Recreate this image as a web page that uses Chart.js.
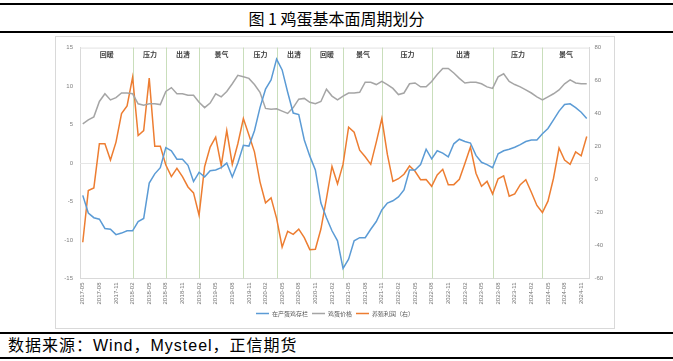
<!DOCTYPE html>
<html>
<head>
<meta charset="utf-8">
<script src="https://cdn.jsdelivr.net/npm/chart.js@4.4.1/dist/chart.umd.min.js"></script>
<style>
  body { margin: 0; background: #fff; width: 673px; height: 361px; position: relative; overflow: hidden; font-family: "Noto Sans CJK SC", sans-serif; }
  .rule { position: absolute; left: 0; width: 673px; background: #000; }
  #title { position: absolute; left: 0; width: 673px; top: 8px; text-align: center; font-size: 16px; line-height: 20px; color: #000; }
  #box { position: absolute; left: 55px; top: 36px; width: 558px; height: 291px; border: 1px solid #D9D9D9; }
  #chart { position: absolute; left: 0; top: 0; }
  #source { position: absolute; left: 8px; top: 336px; font-size: 16px; line-height: 20px; letter-spacing: 1px; color: #000; font-family: "Liberation Sans", "Noto Sans CJK SC", sans-serif; }
</style>
</head>
<body>
<div class="rule" style="top:3px;height:2px"></div>
<div id="title">图 1 鸡蛋基本面周期划分</div>
<div class="rule" style="top:31px;height:1.5px"></div>
<div id="box"><canvas id="chart" width="558" height="291"></canvas></div>
<div class="rule" style="top:332px;height:1.5px"></div>
<div id="source">数据来源：Wind，Mysteel，正信期货</div>
<div class="rule" style="top:357px;height:1.5px"></div>

<script>
// 月度标签 2017-05 ~ 2024-12
const months = [
  '2017-05','2017-06','2017-07','2017-08','2017-09','2017-10','2017-11','2017-12',
  '2018-01','2018-02','2018-03','2018-04','2018-05','2018-06','2018-07','2018-08','2018-09','2018-10','2018-11','2018-12',
  '2019-01','2019-02','2019-03','2019-04','2019-05','2019-06','2019-07','2019-08','2019-09','2019-10','2019-11','2019-12',
  '2020-01','2020-02','2020-03','2020-04','2020-05','2020-06','2020-07','2020-08','2020-09','2020-10','2020-11','2020-12',
  '2021-01','2021-02','2021-03','2021-04','2021-05','2021-06','2021-07','2021-08','2021-09','2021-10','2021-11','2021-12',
  '2022-01','2022-02','2022-03','2022-04','2022-05','2022-06','2022-07','2022-08','2022-09','2022-10','2022-11','2022-12',
  '2023-01','2023-02','2023-03','2023-04','2023-05','2023-06','2023-07','2023-08','2023-09','2023-10','2023-11','2023-12',
  '2024-01','2024-02','2024-03','2024-04','2024-05','2024-06','2024-07','2024-08','2024-09','2024-10','2024-11','2024-12'
];

// 在产蛋鸡存栏（左轴）
const layerStock = [
  -4.2, -6.5, -7.1, -7.3, -8.5, -8.6, -9.3, -9.1, -8.8, -8.8,
  -7.6, -7.2, -2.6, -1.4, -0.6, 2.0, 1.6, 0.5, 0.5, -0.3,
  -2.4, -1.2, -1.8, -1.0, -0.9, -0.6, 0.0, -1.8, 0.0, 2.3,
  2.2, 4.2, 7.2, 9.6, 10.8, 13.5, 12.1, 9.2, 6.5, 6.3,
  3.0, 0.9, -0.9, -5.2, -7.1, -8.8, -10.1, -13.7, -12.5, -10.1,
  -9.7, -9.7, -8.6, -7.6, -6.1, -5.2, -4.9, -4.4, -3.5, -0.9,
  -0.9, -0.2, 1.8, 0.55, 1.6, 1.3, 0.8, 2.5, 3.1, 2.8,
  2.6, 1.0, 0.1, -0.2, -0.6, 1.2, 1.6, 1.8, 2.05, 2.4,
  2.8, 3.0, 3.0, 3.8, 4.5, 5.6, 6.75, 7.6, 7.7, 7.2,
  6.6, 5.8
];

// 鸡蛋价格（左轴）
const eggPrice = [
  5.1, 5.6, 6.0, 8.0, 9.0, 8.2, 8.5, 9.1, 9.1, 9.0,
  7.7, 7.5, 7.7, 7.7, 7.6, 9.3, 9.8, 9.0, 9.0, 8.8,
  8.8, 7.9, 7.2, 7.8, 9.0, 8.6, 9.3, 10.3, 11.4, 11.2,
  11.0, 10.2, 9.2, 7.1, 7.0, 7.05, 6.75, 6.45, 7.2, 8.3,
  8.4, 7.9, 7.7, 8.0, 9.6, 8.7, 8.2, 8.7, 9.1, 9.1,
  9.2, 10.5, 10.5, 10.2, 10.6, 10.2, 9.7, 8.9, 9.1, 10.3,
  10.4, 9.9, 9.9, 10.6, 11.5, 12.3, 12.3, 11.7, 11.0, 10.4,
  10.5, 10.5, 10.3, 9.9, 9.7, 11.2, 11.6, 10.6, 10.2, 9.9,
  9.5, 9.1, 8.6, 8.2, 8.6, 9.0, 9.5, 10.3, 10.8, 10.4,
  10.3, 10.3
];

// 养殖利润（右轴）
const profit = [
  -38, -6.7, -5.1, 21.7, 21.7, 11.8, 22.7, 40, 44.6, 62,
  26.7, 29.7, 61.5, 20.2, 20.2, 8.8, 1.8, 6.8, 1.8, -4.5,
  -8.1, -21.6, 7.8, 19.7, 25.7, 8.4, 29.7, 9.2, 21.7, 37,
  27, 16.8, -1.4, -14.1, -11.1, -23.5, -41, -31.4, -33.2, -30.1,
  -35.2, -42.5, -42.3, -30, -11.5, 8, -2.6, 9.3, 31.7, 28.7,
  17.8, 13.8, 9.2, 22.7, 37, 15.2, -1.1, 0.5, 3.2, 8.2,
  5, -0.1, 0, -4.1, 2.8, 6.2, -3.1, -3.1, 0.2, 9.8,
  19.7, 3.8, -4.1, -1.1, -8.7, 0.5, 2.3, -10.1, -8.7, -3.1,
  -0.1, -7.7, -15.7, -20, -13.1, 0.8, 19.1, 11.8, 9.2, 16.8,
  14.4, 26.1
];

// 周期划分：分界月份的下标与阶段名称
const phaseBreaks = [9, 15, 21, 29, 35, 41, 47, 54, 63, 74, 83];
const phaseNames = ['回暖', '压力', '出清', '景气', '压力', '出清', '回暖', '景气', '压力', '出清', '压力', '景气'];

const tickColor = '#7F7F7F';
const axisFont = { family: 'Liberation Sans', size: 6 };

// 画阶段分界线、阶段名称、零线和上边框
const phasePlugin = {
  id: 'phases',
  beforeDatasetsDraw(chart) {
    const { ctx, chartArea, scales } = chart;
    ctx.save();
    // 上边框
    ctx.strokeStyle = '#E2E2E2';
    ctx.lineWidth = 1;
    ctx.beginPath();
    ctx.moveTo(chartArea.left, chartArea.top + 0.5);
    ctx.lineTo(chartArea.right, chartArea.top + 0.5);
    ctx.stroke();
    // 左轴零线
    const y0 = Math.round(scales.y.getPixelForValue(0)) + 0.5;
    ctx.strokeStyle = '#E6E6E6';
    ctx.beginPath();
    ctx.moveTo(chartArea.left, y0);
    ctx.lineTo(chartArea.right, y0);
    ctx.stroke();
    // 分界线
    ctx.strokeStyle = '#C9DEBB';
    const xs = phaseBreaks.map(i => Math.round(scales.x.getPixelForValue(i)) + 0.5);
    xs.forEach(x => {
      ctx.beginPath();
      ctx.moveTo(x, chartArea.top);
      ctx.lineTo(x, chartArea.bottom);
      ctx.stroke();
    });
    // 阶段名称
    const edges = [chartArea.left, ...xs, chartArea.right];
    ctx.fillStyle = '#404040';
    ctx.font = 'bold 7px "Noto Sans CJK SC"';
    ctx.textAlign = 'center';
    ctx.textBaseline = 'middle';
    phaseNames.forEach((name, i) => {
      ctx.fillText(name, (edges[i] + edges[i + 1]) / 2, chartArea.top + 7);
    });
    ctx.restore();
  }
};

new Chart(document.getElementById('chart'), {
  type: 'line',
  data: {
    labels: months,
    datasets: [
      {
        label: '在产蛋鸡存栏',
        data: layerStock,
        borderColor: '#5B9BD5',
        backgroundColor: '#5B9BD5',
        borderWidth: 1.5,
        pointRadius: 0,
        yAxisID: 'y'
      },
      {
        label: '鸡蛋价格',
        data: eggPrice,
        borderColor: '#A5A5A5',
        backgroundColor: '#A5A5A5',
        borderWidth: 1.5,
        pointRadius: 0,
        yAxisID: 'y'
      },
      {
        label: '养殖利润（右）',
        data: profit,
        borderColor: '#ED7D31',
        backgroundColor: '#ED7D31',
        borderWidth: 1.5,
        pointRadius: 0,
        yAxisID: 'y1'
      }
    ]
  },
  options: {
    responsive: false,
    animation: false,
    devicePixelRatio: 1,
    layout: { padding: { top: 7, left: 0, right: 0, bottom: 1.5 } },
    plugins: {
      legend: {
        position: 'bottom',
        labels: {
          color: '#595959',
          font: { family: 'Noto Sans CJK SC', size: 6 },
          usePointStyle: true,
          pointStyle: 'line',
          pointStyleWidth: 13,
          boxHeight: 6,
          padding: 4
        }
      },
      tooltip: { enabled: false }
    },
    scales: {
      x: {
        offset: true,
        grid: { display: false, drawTicks: false },
        border: { display: true, color: '#D9D9D9' },
        ticks: {
          autoSkip: false,
          maxRotation: 90,
          minRotation: 90,
          padding: 4,
          color: '#737373',
          font: { family: 'Liberation Sans', size: 6 },
          callback: function (v, i) { return i % 3 === 0 ? this.getLabelForValue(v) : ''; }
        },
        afterFit: s => { s.height = 28; }
      },
      y: {
        position: 'left',
        min: -15,
        max: 15,
        grid: { display: false, drawTicks: false },
        border: { display: true, color: '#D9D9D9' },
        ticks: { stepSize: 5, padding: 7, color: tickColor, font: axisFont },
        afterFit: s => { s.width = 24; }
      },
      y1: {
        position: 'right',
        min: -60,
        max: 80,
        grid: { display: false, drawTicks: false },
        border: { display: true, color: '#D9D9D9' },
        ticks: { stepSize: 20, padding: 5, color: tickColor, font: axisFont },
        afterFit: s => { s.width = 24.5; }
      }
    }
  },
  plugins: [phasePlugin]
});
</script>
</body>
</html>
